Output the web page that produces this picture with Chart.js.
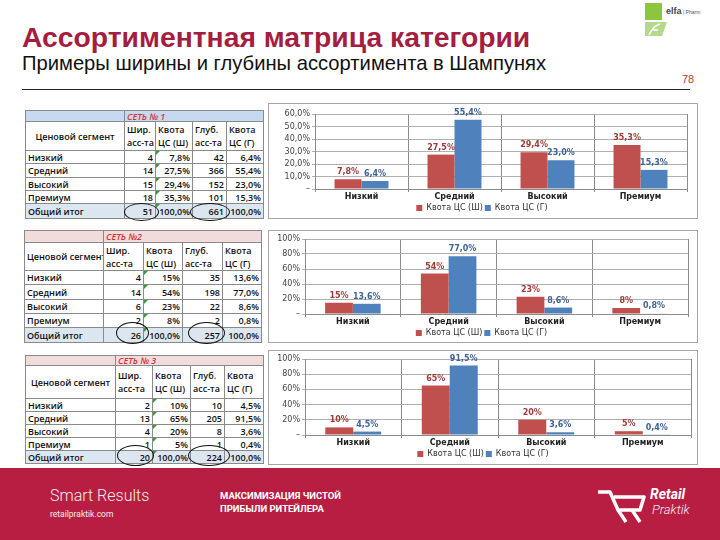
<!DOCTYPE html>
<html>
<head>
<meta charset="utf-8">
<script src="https://cdn.jsdelivr.net/npm/chart.js@4.4.1/dist/chart.umd.min.js"></script>
<style>
  body { margin: 0; width: 720px; height: 540px; position: relative; overflow: hidden; background: #fff; font-family: "Liberation Sans", Arial, sans-serif; }
  .abs { position: absolute; }
  #title { left: 22px; top: 21px; font-size: 28.3px; font-weight: bold; color: #a51d41; white-space: nowrap; }
  #sub { left: 22px; top: 52px; font-size: 20.2px; color: #111; white-space: nowrap; }
  #pg { left: 682px; top: 73px; font-size: 11px; color: #c0392b; }
  #rule { left: 22px; top: 89px; width: 668px; height: 1px; background: #222; }
  .box { position: absolute; border: 1px solid #a6a6a6; background: #fff; box-sizing: border-box; }
  table.t { position: absolute; border-collapse: collapse; table-layout: fixed; font-family: "Open Sans", "Liberation Sans", sans-serif; font-size: 9px; font-weight: 600; color: #111; }
  table.t td { border: 1px solid #8a8a8a; padding: 0 2px; overflow: hidden; white-space: nowrap; line-height: 9px; position: relative; }
  table.t td.n { text-align: right; }
  table.t td.h { text-align: left; vertical-align: middle; line-height: 13px; }
  table.t td.seg { text-align: center; }
  table.t td.cap { font-style: italic; color: #d6333b; }
  table.t td.g::before { content: ""; position: absolute; left: 0; top: 0; border-left: 4px solid #3a9a3a; border-bottom: 4px solid transparent; }
  .oval { position: absolute; border: 1.5px solid #111; border-radius: 50%; box-sizing: border-box; }
  #foot { left: 0; top: 468px; width: 720px; height: 72px; background: #b81e42; }
  .ft { position: absolute; color: #fff; white-space: nowrap; }
</style>
</head>
<body>
<div id="title" class="abs">Ассортиментная матрица категории</div>
<div id="sub" class="abs">Примеры ширины и глубины ассортимента в Шампунях</div>
<div id="pg" class="abs">78</div>
<div id="rule" class="abs"></div>

<!-- elfa logo -->
<div class="abs" style="left:645px;top:3px;width:17px;height:17px;background:#8cc63f"></div>
<svg class="abs" style="left:644px;top:22px" width="24" height="14">
  <polygon points="1,0 23,0 18,14 1,14" fill="#b5d98a"/>
  <path d="M5 13 Q9 4 16 2 M8 8 H14" fill="none" stroke="#fff" stroke-width="1.5"/>
</svg>
<div class="abs" style="left:666px;top:6px;font-size:9px;font-weight:bold;color:#444">elfa<span style="font-weight:normal;font-size:5px;color:#555"> | Pharm</span></div>

<div class="box" style="left:268px;top:103px;width:430px;height:116px"><canvas id="c1"></canvas></div>
<div class="box" style="left:268px;top:230px;width:430px;height:113px"><canvas id="c2"></canvas></div>
<div class="box" style="left:268px;top:350px;width:430px;height:115px"><canvas id="c3"></canvas></div>

<div id="tables"></div>

<div id="foot" class="abs">
  <div class="ft" style="left:50px;top:18px;font-family:Roboto;font-weight:300;font-size:16px;color:#eee">Smart Results</div>
  <div class="ft" style="left:50px;top:41px;font-family:Roboto;font-size:8.5px;color:#eee">retailpraktik.com</div>
  <div class="ft" style="left:220px;top:21px;font-family:Roboto;font-weight:bold;font-size:9.5px;line-height:13px">МАКСИМИЗАЦИЯ ЧИСТОЙ<br>ПРИБЫЛИ РИТЕЙЛЕРА</div>
  <svg class="ft" style="left:596px;top:20px" width="52" height="36">
    <path d="M2 4 H14 L22 22 H44 L48 9 H18" fill="none" stroke="#fff" stroke-width="3.5" stroke-linejoin="round"/>
    <path d="M22 22 L30 34 M36 22 L44 34" fill="none" stroke="#fff" stroke-width="3.5"/>
  </svg>
  <div class="ft" style="left:650px;top:18px;font-family:Roboto;font-weight:bold;font-style:italic;font-size:14px">Retail</div>
  <div class="ft" style="left:652px;top:34px;font-family:Roboto;font-weight:300;font-style:italic;font-size:13px;color:#eee">Praktik</div>
</div>

<script>
// categories and series
const categories = ["Низкий", "Средний", "Высокий", "Премиум"];
const seriesNames = ["Квота ЦС (Ш)", "Квота ЦС (Г)"];

// Сеть 1
const net1Width = [4, 14, 15, 18];
const net1WidthShare = [7.8, 27.5, 29.4, 35.3];
const net1Depth = [42, 366, 152, 101];
const net1DepthShare = [6.4, 55.4, 23.0, 15.3];
// Сеть 2
const net2Width = [4, 14, 6, 2];
const net2WidthShare = [15, 54, 23, 8];
const net2Depth = [35, 198, 22, 2];
const net2DepthShare = [13.6, 77.0, 8.6, 0.8];
// Сеть 3
const net3Width = [2, 13, 4, 1];
const net3WidthShare = [10, 65, 20, 5];
const net3Depth = [10, 205, 8, 1];
const net3DepthShare = [4.5, 91.5, 3.6, 0.4];

const widthTotals = [51, 26, 20];
const depthTotals = [661, 257, 224];

// y axis tick settings per chart
const yMax = [60, 100, 100];
const yStep = [10, 20, 20];

const red = "#c0504d";
const blue = "#4f81bd";

function fmt(v, dec) {
  return v.toFixed(dec).replace(".", ",") + "%";
}

// ---------- tables ----------
function buildTable(opt) {
  let h = `<table class="t" style="left:${opt.left}px;top:${opt.top}px;width:${opt.cols.reduce((a, b) => a + b, 0)}px">`;
  h += "<colgroup>" + opt.cols.map(w => `<col style="width:${w}px">`).join("") + "</colgroup>";
  h += `<tr style="height:${opt.rows[0]}px;background:${opt.capBg}"><td></td><td class="cap" colspan="4">${opt.cap}</td></tr>`;
  h += `<tr style="height:${opt.rows[1]}px"><td class="seg">Ценовой сегмент</td><td class="h">Шир.<br>асс-та</td><td class="h">Квота<br>ЦС (Ш)</td><td class="h">Глуб.<br>асс-та</td><td class="h">Квота<br>ЦС (Г)</td></tr>`;
  categories.forEach((c, i) => {
    h += `<tr style="height:${opt.rows[2 + i]}px"><td>${c}</td><td class="n">${opt.w[i]}</td><td class="n g">${fmt(opt.ws[i], opt.decW)}</td><td class="n">${opt.d[i]}</td><td class="n">${fmt(opt.ds[i], 1)}</td></tr>`;
  });
  h += `<tr style="height:${opt.rows[6]}px;background:#dce6f1"><td>Общий итог</td><td class="n">${opt.wt}</td><td class="n g">${fmt(100, 1)}</td><td class="n">${opt.dt}</td><td class="n">${fmt(100, 1)}</td></tr>`;
  h += "</table>";
  opt.ovals.forEach(o => {
    h += `<div class="oval" style="left:${o[0]}px;top:${o[1]}px;width:${o[2]}px;height:${o[3]}px"></div>`;
  });
  return h;
}

document.getElementById("tables").innerHTML =
  buildTable({ left: 25, top: 110, cols: [99, 31, 37, 34, 37], rows: [11, 29, 13, 14, 13, 13, 15],
    cap: "СЕТЬ № 1", capBg: "#c6d9f1", w: net1Width, ws: net1WidthShare, d: net1Depth, ds: net1DepthShare,
    decW: 1, wt: widthTotals[0], dt: depthTotals[0], ovals: [[124, 203, 35, 18], [190, 203, 40, 18]] }) +
  buildTable({ left: 24, top: 230, cols: [79, 40, 39, 40, 39], rows: [12, 28, 14, 15, 14, 14, 15],
    cap: "СЕТЬ №2", capBg: "#f2dcdb", w: net2Width, ws: net2WidthShare, d: net2Depth, ds: net2DepthShare,
    decW: 0, wt: widthTotals[1], dt: depthTotals[1], ovals: [[116, 322, 33, 22], [188, 322, 37, 22]] }) +
  buildTable({ left: 25, top: 355, cols: [90, 37, 38, 34, 39], rows: [10, 33, 13, 13, 13, 13, 13],
    cap: "СЕТЬ № 3", capBg: "#f2dcdb", w: net3Width, ws: net3WidthShare, d: net3Depth, ds: net3DepthShare,
    decW: 0, wt: widthTotals[2], dt: depthTotals[2], ovals: [[117, 445, 37, 21], [188, 445, 42, 21]] });

// ---------- charts ----------
const barLabels = {
  id: "barLabels",
  afterDatasetsDraw(chart) {
    const ctx = chart.ctx;
    chart.data.datasets.forEach((ds, i) => {
      const meta = chart.getDatasetMeta(i);
      meta.data.forEach((bar, j) => {
        ctx.save();
        ctx.fillStyle = ds.labelColor;
        ctx.font = 'bold 8px "DejaVu Sans"';
        ctx.textAlign = "center";
        ctx.textBaseline = "bottom";
        ctx.fillText(fmt(ds.data[j], ds.dec), bar.x, bar.y - 3);
        ctx.restore();
      });
    });
  }
};

// keep the legend compact (Excel-like)
const legendHeight = {
  id: "legendHeight",
  afterInit(chart) {
    const lg = chart.legend;
    if (!lg) return;
    const fit = lg.fit;
    lg.fit = function () {
      fit.call(this);
      this.height = 14;
    };
  }
};

function makeChart(id, k, redData, blueData, redDec, yWidth, pad) {
  new Chart(document.getElementById(id), {
    type: "bar",
    plugins: [barLabels, legendHeight],
    data: {
      labels: categories,
      datasets: [
        { label: seriesNames[0], data: redData, backgroundColor: red, labelColor: "#9c3b38", dec: redDec,
          barPercentage: 1, categoryPercentage: 0.58 },
        { label: seriesNames[1], data: blueData, backgroundColor: blue, labelColor: "#3d6496", dec: 1,
          barPercentage: 1, categoryPercentage: 0.58 }
      ]
    },
    options: {
      responsive: true,
      maintainAspectRatio: false,
      animation: false,
      layout: { padding: pad },
      plugins: {
        tooltip: { enabled: false },
        legend: {
          position: "bottom",
          labels: { boxWidth: 6, boxHeight: 6, padding: 2, color: "#333",
            font: { family: "DejaVu Sans", size: 8 } }
        }
      },
      scales: {
        x: {
          afterFit: (s) => { s.height = 13; },
          grid: { color: (c) => (c.index === 4 ? "rgba(0,0,0,0)" : "#8c8c8c"), tickLength: 3 },
          border: { color: "#8c8c8c" },
          ticks: { color: "#222", padding: 0, font: { family: "DejaVu Sans", size: 8, weight: "bold" } }
        },
        y: {
          min: 0,
          max: yMax[k],
          afterFit: (s) => { s.width = yWidth; },
          grid: { color: "#b0b0b0", tickLength: 3 },
          border: { color: "#8c8c8c" },
          ticks: {
            stepSize: yStep[k],
            autoSkip: false,
            color: "#444",
            padding: 2,
            font: { family: "DejaVu Sans", size: 8 },
            callback: (v) => (v === 0 ? "–" : fmt(v, k === 0 ? 1 : 0))
          }
        }
      }
    }
  });
}

makeChart("c1", 0, net1WidthShare, net1DepthShare, 1, 38, { left: 8, right: 10, top: 10, bottom: 2 });
makeChart("c2", 1, net2WidthShare, net2DepthShare, 0, 30, { left: 6, right: 9, top: 8, bottom: 1 });
makeChart("c3", 2, net3WidthShare, net3DepthShare, 0, 30, { left: 6, right: 6, top: 8, bottom: 2 });
</script>
</body>
</html>
